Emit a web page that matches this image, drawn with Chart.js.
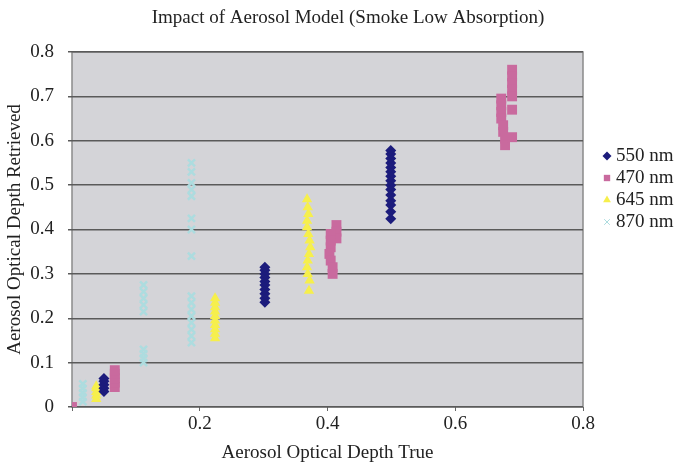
<!DOCTYPE html>
<html>
<head>
<meta charset="utf-8">
<script src="https://cdn.jsdelivr.net/npm/chart.js@4"></script>
<style>
  html, body { margin: 0; padding: 0; background: #fff; }
  #wrap { width: 682px; height: 467px; }
</style>
</head>
<body>
<div id="wrap"><canvas id="chart" width="682" height="467"></canvas></div>
<script>
// ========== DATA ==========
const TITLE = 'Impact of Aerosol Model (Smoke Low Absorption)';
const X_TITLE = 'Aerosol Optical Depth True';
const Y_TITLE = 'Aerosol Optical Depth Retrieved';
const X_TICKS = [0, 0.2, 0.4, 0.6, 0.8];
const Y_TICKS = [0, 0.1, 0.2, 0.3, 0.4, 0.5, 0.6, 0.7, 0.8];

// 550 nm
const x550 = [0.05, 0.05, 0.05, 0.05, 0.05,
  0.302, 0.302, 0.302, 0.302, 0.302, 0.302, 0.302, 0.302, 0.302, 0.302,
  0.499, 0.499, 0.499, 0.499, 0.499, 0.499, 0.499, 0.499, 0.499, 0.499, 0.499, 0.499, 0.499, 0.499, 0.499];
const y550 = [0.035, 0.042, 0.05, 0.058, 0.064,
  0.236, 0.245, 0.255, 0.265, 0.275, 0.283, 0.292, 0.3, 0.308, 0.315,
  0.424, 0.44, 0.455, 0.465, 0.478, 0.49, 0.5, 0.51, 0.52, 0.53, 0.54, 0.55, 0.56, 0.57, 0.578];

// 470 nm
const x470 = [0,
  0.067, 0.067, 0.067, 0.067, 0.067,
  0.414, 0.414, 0.414, 0.405, 0.405, 0.405, 0.403, 0.405, 0.408, 0.408,
  0.689, 0.689, 0.689, 0.689, 0.689, 0.672, 0.672, 0.672, 0.672, 0.675, 0.675, 0.678, 0.678, 0.689, 0.689];
const y470 = [0,
  0.045, 0.055, 0.065, 0.075, 0.083,
  0.41, 0.395, 0.38, 0.39, 0.375, 0.36, 0.345, 0.33, 0.315, 0.3,
  0.76, 0.745, 0.73, 0.715, 0.70, 0.695, 0.68, 0.665, 0.65, 0.635, 0.62, 0.605, 0.59, 0.67, 0.608];

// 645 nm
const x645 = [0.038, 0.038, 0.038, 0.038, 0.038,
  0.224, 0.224, 0.224, 0.224, 0.224, 0.224, 0.224, 0.224, 0.224, 0.224,
  0.371, 0.372, 0.369, 0.368, 0.369, 0.371, 0.373, 0.372, 0.370, 0.368, 0.368, 0.370, 0.369, 0.368];
const y645 = [0.018, 0.026, 0.034, 0.042, 0.047,
  0.155, 0.165, 0.175, 0.185, 0.195, 0.205, 0.215, 0.225, 0.235, 0.245,
  0.262, 0.285, 0.3, 0.315, 0.33, 0.345, 0.36, 0.375, 0.39, 0.405, 0.42, 0.435, 0.45, 0.468];

// 870 nm
const x870 = [0.017, 0.017, 0.017, 0.017, 0.017,
  0.112, 0.112, 0.112, 0.112, 0.112, 0.112, 0.112, 0.112, 0.112,
  0.187, 0.187, 0.187, 0.187, 0.187, 0.187, 0.187, 0.187, 0.187, 0.187, 0.187, 0.187, 0.187, 0.187, 0.187, 0.187];
const y870 = [0.012, 0.022, 0.032, 0.042, 0.052,
  0.1, 0.11, 0.12, 0.13, 0.215, 0.23, 0.245, 0.26, 0.275,
  0.145, 0.16, 0.175, 0.19, 0.205, 0.22, 0.235, 0.25, 0.34, 0.4, 0.425, 0.475, 0.49, 0.505, 0.53, 0.55];

const SERIES = ['550 nm', '470 nm', '645 nm', '870 nm'];

const FONT = "'Liberation Serif', 'Times New Roman', serif";
const pts = (xs, ys) => xs.map((x, i) => ({ x, y: ys[i] }));

// plot background fill + chart title (title sits right of centre in the original)
const plotBg = {
    id: 'plotBg',
    beforeDraw(chart) {
        const { ctx, chartArea: a } = chart;
        ctx.save();
        ctx.fillStyle = '#d4d4d8';
        ctx.fillRect(a.left, a.top, a.right - a.left, a.bottom - a.top);
        ctx.strokeStyle = '#8a8a8a';
        ctx.lineWidth = 1.5;
        ctx.strokeRect(a.left, a.top, a.right - a.left, a.bottom - a.top);
        ctx.fillStyle = '#222';
        ctx.font = '19px ' + FONT;
        ctx.textAlign = 'center';
        ctx.textBaseline = 'middle';
        ctx.fillText(TITLE, 348, 18);
        ctx.restore();
    }
};

// legend to the right of the plot
const sideLegend = {
    id: 'sideLegend',
    afterDraw(chart) {
        const { ctx } = chart;
        ctx.save();
        ctx.font = '19px ' + FONT;
        ctx.textBaseline = 'middle';
        chart.data.datasets.forEach((ds, i) => {
            const y = 156 + i * 22;
            const isCross = ds.pointStyle === 'crossRot';
            ctx.fillStyle = ds.backgroundColor;
            ctx.strokeStyle = ds.borderColor;
            Chart.helpers.drawPoint(ctx, {
                pointStyle: ds.pointStyle, radius: isCross ? 4 : 4.5, borderWidth: isCross ? 1.5 : 0
            }, 607, y);
            ctx.fillStyle = '#222';
            ctx.fillText(ds.label, 616, y);
        });
        ctx.restore();
    }
};

new Chart(document.getElementById('chart'), {
    type: 'scatter',
    data: {
        datasets: [
            { label: SERIES[0], data: pts(x550, y550), pointStyle: 'rectRot', pointRadius: 5.5,
              backgroundColor: '#1c1c7c', borderColor: '#1c1c7c', borderWidth: 0 },
            { label: SERIES[1], data: pts(x470, y470), pointStyle: 'rect', pointRadius: 7,
              backgroundColor: '#c96a9e', borderColor: '#c96a9e', borderWidth: 0 },
            { label: SERIES[2], data: pts(x645, y645), pointStyle: 'triangle', pointRadius: 6,
              backgroundColor: '#f6ef4c', borderColor: '#f6ef4c', borderWidth: 0 },
            { label: SERIES[3], data: pts(x870, y870), pointStyle: 'crossRot', pointRadius: 5,
              backgroundColor: '#addcdf', borderColor: '#addcdf', borderWidth: 2.5 }
        ]
    },
    options: {
        responsive: false,
        animation: false,
        layout: { padding: { left: 0, right: 99, top: 52, bottom: 0 } },
        plugins: {
            legend: { display: false },
            tooltip: { enabled: false },
            title: { display: false }
        },
        scales: {
            x: {
                type: 'linear', min: 0, max: 0.8,
                afterBuildTicks: s => { s.ticks = X_TICKS.map(v => ({ value: v })); },
                afterFit: s => { s.height = 60; },
                grid: { drawOnChartArea: false, color: '#666', tickLength: 4 },
                border: { display: false },
                ticks: {
                    color: '#222', font: { family: FONT, size: 19 }, padding: 2,
                    callback: v => v === 0 ? '' : v.toFixed(1)
                },
                title: {
                    display: true, text: X_TITLE, color: '#222',
                    font: { family: FONT, size: 19 }, padding: { top: 0, bottom: 3 }
                }
            },
            y: {
                type: 'linear', min: 0, max: 0.8,
                afterBuildTicks: s => { s.ticks = Y_TICKS.map(v => ({ value: v })); },
                afterFit: s => { s.width = 72; },
                grid: { color: '#5a5a5a', lineWidth: 1.5, tickLength: 4 },
                border: { display: false },
                ticks: {
                    color: '#222', font: { family: FONT, size: 19 }, padding: 14,
                    callback: v => v === 0 ? '0' : v.toFixed(1)
                },
                title: {
                    display: true, text: Y_TITLE, color: '#222',
                    font: { family: FONT, size: 19 }, padding: { top: 4, bottom: 0 }
                }
            }
        }
    },
    plugins: [plotBg, sideLegend]
});
</script>
</body>
</html>
